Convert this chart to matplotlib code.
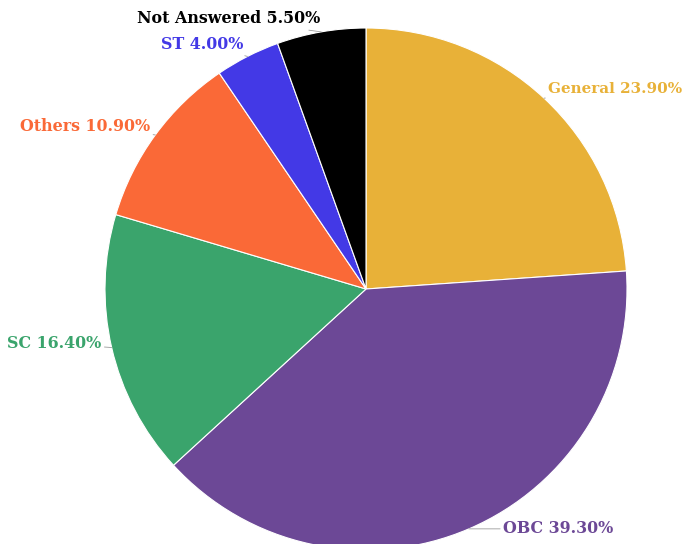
import numpy as np
import matplotlib
matplotlib.use("Agg")
import matplotlib.pyplot as plt

categories = ["General", "OBC", "SC", "Others", "ST", "Not Answered"]
shares = [23.9, 39.3, 16.4, 10.9, 4.0, 5.5]
colors = ["#E8B138", "#6C4896", "#3AA46C", "#FA6937", "#4339E6", "#000000"]

# label offsets (pixels) from the wedge's outer mid point, and alignment
OFFSETS = {
    "General": (4, 9, "left"),
    "OBC": (34, 0, "left"),
    "SC": (-10, 4, "right"),
    "Others": (-5, 8, "right"),
    "ST": (-4, 12, "right"),
    "Not Answered": (-1, 13, "right"),
}

W, H = 686, 544
CX, CY, R = 366, 289, 261  # pie centre / radius in pixels

fig = plt.figure(figsize=(W / 100, H / 100), dpi=100)
ax = fig.add_axes([0, 0, 1, 1])

wedges, _ = ax.pie(shares, colors=colors, startangle=90, counterclock=False,
                   radius=1.0, wedgeprops=dict(edgecolor="white", linewidth=0.8))

ax.set_xlim(-CX / R, (W - CX) / R)
ax.set_ylim(-(H - CY) / R, CY / R)
ax.set_aspect("equal")
ax.axis("off")

for w, name, val, col in zip(wedges, categories, shares, colors):
    mid = np.deg2rad((w.theta1 + w.theta2) / 2)
    x, y = np.cos(mid), np.sin(mid)
    dx, dy, ha = OFFSETS[name]
    size = 10.9 if name == "General" else 11.4
    ax.annotate(f"{name} {val:.2f}%", xy=(x, y), xytext=(dx, dy),
                textcoords="offset pixels", ha=ha, va="center",
                color=col, fontsize=size, fontweight="bold",
                family="DejaVu Serif",
                arrowprops=dict(arrowstyle="-", color="#9a9a9a", lw=0.6,
                                shrinkA=0, shrinkB=0))

fig.savefig("out.png", dpi=100)
